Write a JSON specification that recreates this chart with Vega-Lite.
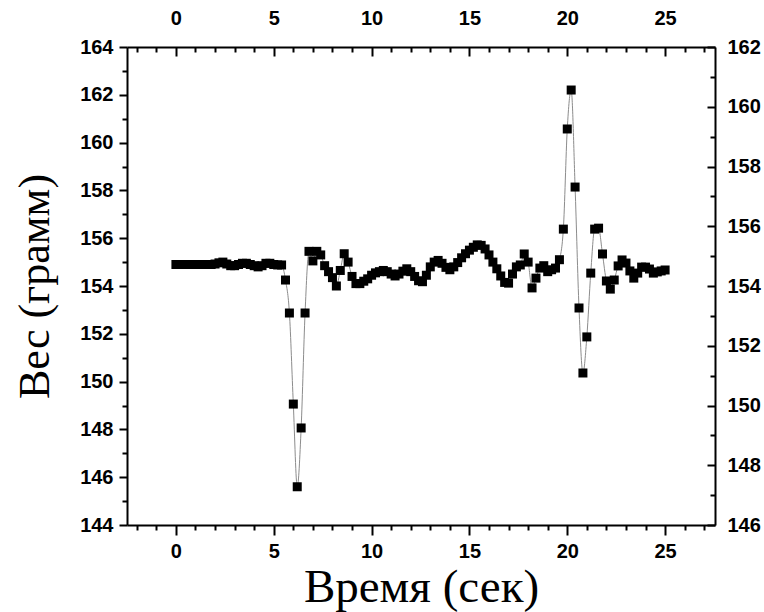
{
  "$schema": "https://vega.github.io/schema/vega-lite/v6.json",
  "width": 588,
  "height": 478,
  "autosize": {"type": "none"},
  "padding": {"left": 127, "top": 47, "right": 49, "bottom": 87},
  "background": "white",
  "config": {
    "view": {"stroke": null},
    "axis": {
      "domainColor": "black",
      "tickColor": "black",
      "domainWidth": 2,
      "tickWidth": 2,
      "labelFont": "Liberation Sans",
      "labelFontWeight": "bold",
      "labelFontSize": 20,
      "labelColor": "black",
      "labelOverlap": false,
      "labelFlush": false,
      "grid": false,
      "titleFont": "Liberation Serif",
      "titleFontWeight": "normal",
      "titleColor": "black"
    }
  },
  "data": {
    "values": [
      {"t": 0.0, "w": 154.9}, {"t": 0.2, "w": 154.9}, {"t": 0.4, "w": 154.9}, {"t": 0.6, "w": 154.9},
      {"t": 0.8, "w": 154.9}, {"t": 1.0, "w": 154.9}, {"t": 1.2, "w": 154.9}, {"t": 1.4, "w": 154.9},
      {"t": 1.6, "w": 154.9}, {"t": 1.8, "w": 154.9}, {"t": 2.0, "w": 154.92}, {"t": 2.2, "w": 154.97},
      {"t": 2.4, "w": 155.0}, {"t": 2.6, "w": 154.92}, {"t": 2.8, "w": 154.85}, {"t": 3.0, "w": 154.85},
      {"t": 3.2, "w": 154.9}, {"t": 3.4, "w": 154.95}, {"t": 3.6, "w": 154.95}, {"t": 3.8, "w": 154.9},
      {"t": 4.0, "w": 154.85}, {"t": 4.2, "w": 154.8}, {"t": 4.4, "w": 154.85}, {"t": 4.6, "w": 154.95},
      {"t": 4.8, "w": 154.95}, {"t": 5.0, "w": 154.9}, {"t": 5.2, "w": 154.88}, {"t": 5.4, "w": 154.88},
      {"t": 5.6, "w": 154.25}, {"t": 5.8, "w": 152.87}, {"t": 6.0, "w": 149.06}, {"t": 6.2, "w": 145.6},
      {"t": 6.4, "w": 148.06}, {"t": 6.6, "w": 152.87}, {"t": 6.8, "w": 155.45}, {"t": 7.0, "w": 155.05},
      {"t": 7.2, "w": 155.45}, {"t": 7.4, "w": 155.3}, {"t": 7.6, "w": 154.85}, {"t": 7.8, "w": 154.6},
      {"t": 8.0, "w": 154.35}, {"t": 8.2, "w": 154.0}, {"t": 8.4, "w": 154.65}, {"t": 8.6, "w": 155.35},
      {"t": 8.8, "w": 155.0}, {"t": 9.0, "w": 154.4}, {"t": 9.2, "w": 154.1}, {"t": 9.4, "w": 154.1},
      {"t": 9.6, "w": 154.2}, {"t": 9.8, "w": 154.3}, {"t": 10.0, "w": 154.45}, {"t": 10.2, "w": 154.55},
      {"t": 10.4, "w": 154.6}, {"t": 10.6, "w": 154.65}, {"t": 10.8, "w": 154.6}, {"t": 11.0, "w": 154.5},
      {"t": 11.2, "w": 154.42}, {"t": 11.4, "w": 154.5}, {"t": 11.6, "w": 154.62}, {"t": 11.8, "w": 154.72},
      {"t": 12.0, "w": 154.6}, {"t": 12.2, "w": 154.4}, {"t": 12.4, "w": 154.22}, {"t": 12.6, "w": 154.18},
      {"t": 12.8, "w": 154.45}, {"t": 13.0, "w": 154.8}, {"t": 13.2, "w": 155.0}, {"t": 13.4, "w": 155.07},
      {"t": 13.6, "w": 154.95}, {"t": 13.8, "w": 154.78}, {"t": 14.0, "w": 154.68}, {"t": 14.2, "w": 154.8},
      {"t": 14.4, "w": 154.98}, {"t": 14.6, "w": 155.18}, {"t": 14.8, "w": 155.35}, {"t": 15.0, "w": 155.5},
      {"t": 15.2, "w": 155.62}, {"t": 15.4, "w": 155.72}, {"t": 15.6, "w": 155.7}, {"t": 15.8, "w": 155.55},
      {"t": 16.0, "w": 155.3}, {"t": 16.2, "w": 155.0}, {"t": 16.4, "w": 154.72}, {"t": 16.6, "w": 154.42},
      {"t": 16.8, "w": 154.15}, {"t": 17.0, "w": 154.12}, {"t": 17.2, "w": 154.5}, {"t": 17.4, "w": 154.8},
      {"t": 17.6, "w": 154.88}, {"t": 17.8, "w": 155.34}, {"t": 18.0, "w": 155.0}, {"t": 18.2, "w": 153.92},
      {"t": 18.4, "w": 154.33}, {"t": 18.6, "w": 154.75}, {"t": 18.8, "w": 154.85}, {"t": 19.0, "w": 154.6},
      {"t": 19.2, "w": 154.68}, {"t": 19.4, "w": 154.75}, {"t": 19.6, "w": 155.1}, {"t": 19.8, "w": 156.38},
      {"t": 20.0, "w": 160.57}, {"t": 20.2, "w": 162.2}, {"t": 20.4, "w": 158.14}, {"t": 20.6, "w": 153.08},
      {"t": 20.8, "w": 150.36}, {"t": 21.0, "w": 151.87}, {"t": 21.2, "w": 154.54}, {"t": 21.4, "w": 156.38},
      {"t": 21.6, "w": 156.42}, {"t": 21.8, "w": 155.34}, {"t": 22.0, "w": 154.21}, {"t": 22.2, "w": 153.87},
      {"t": 22.4, "w": 154.25}, {"t": 22.6, "w": 154.84}, {"t": 22.8, "w": 155.09}, {"t": 23.0, "w": 154.96},
      {"t": 23.2, "w": 154.63}, {"t": 23.4, "w": 154.33}, {"t": 23.6, "w": 154.54}, {"t": 23.8, "w": 154.79},
      {"t": 24.0, "w": 154.79}, {"t": 24.2, "w": 154.71}, {"t": 24.4, "w": 154.54}, {"t": 24.6, "w": 154.59},
      {"t": 24.8, "w": 154.63}, {"t": 25.0, "w": 154.67}
    ]
  },
  "layer": [
    {
      "mark": {"type": "line", "color": "#8c8c8c", "strokeWidth": 1, "interpolate": "monotone"},
      "encoding": {
        "x": {"field": "t", "type": "quantitative",
          "scale": {"domain": [-2.5, 27.55], "nice": false, "zero": false},
          "axis": {"orient": "bottom", "values": [0, 5, 10, 15, 20, 25], "tickSize": 10, "labelPadding": 6,
            "title": "Время (сек)", "titleFontSize": 47, "titlePadding": 3}},
        "y": {"field": "w", "type": "quantitative",
          "scale": {"domain": [144, 164], "nice": false, "zero": false},
          "axis": {"orient": "left", "values": [144, 146, 148, 150, 152, 154, 156, 158, 160, 162, 164], "tickSize": 8, "labelPadding": 6,
            "title": "Вес (грамм)", "titleFontSize": 44, "titlePadding": 22}}
      }
    },
    {
      "mark": {"type": "point", "shape": "square", "filled": true, "color": "black", "size": 81, "opacity": 1},
      "encoding": {
        "x": {"field": "t", "type": "quantitative",
          "scale": {"domain": [-2.5, 27.55], "nice": false, "zero": false},
          "axis": {"orient": "bottom", "values": [-2, -1, 1, 2, 3, 4, 6, 7, 8, 9, 11, 12, 13, 14, 16, 17, 18, 19, 21, 22, 23, 24, 26, 27],
            "labels": false, "domain": false, "tickSize": 5, "title": null}},
        "y": {"field": "w", "type": "quantitative",
          "scale": {"domain": [144, 164], "nice": false, "zero": false},
          "axis": {"orient": "left", "values": [145, 147, 149, 151, 153, 155, 157, 159, 161, 163],
            "labels": false, "domain": false, "tickSize": 5, "title": null}}
      }
    },
    {
      "mark": {"type": "point", "opacity": 0},
      "encoding": {
        "x": {"field": "t", "type": "quantitative",
          "scale": {"domain": [-2.5, 27.55], "nice": false, "zero": false},
          "axis": {"orient": "top", "values": [0, 5, 10, 15, 20, 25], "tickSize": -9, "labelPadding": 28, "title": null}},
        "y": {"field": "w", "type": "quantitative",
          "scale": {"domain": [146, 162], "nice": false, "zero": false},
          "axis": {"orient": "right", "values": [146, 148, 150, 152, 154, 156, 158, 160, 162], "tickSize": -8, "labelPadding": 20, "title": null}}
      }
    },
    {
      "mark": {"type": "point", "opacity": 0},
      "encoding": {
        "x": {"field": "t", "type": "quantitative",
          "scale": {"domain": [-2.5, 27.55], "nice": false, "zero": false},
          "axis": {"orient": "top", "values": [-2, -1, 1, 2, 3, 4, 6, 7, 8, 9, 11, 12, 13, 14, 16, 17, 18, 19, 21, 22, 23, 24, 26, 27],
            "labels": false, "domain": false, "tickSize": -5, "title": null}},
        "y": {"field": "w", "type": "quantitative",
          "scale": {"domain": [146, 162], "nice": false, "zero": false},
          "axis": {"orient": "right", "values": [147, 149, 151, 153, 155, 157, 159, 161],
            "labels": false, "domain": false, "tickSize": -5, "title": null}}
      }
    }
  ],
  "resolve": {"scale": {"y": "independent"}, "axis": {"x": "independent", "y": "independent"}}
}
